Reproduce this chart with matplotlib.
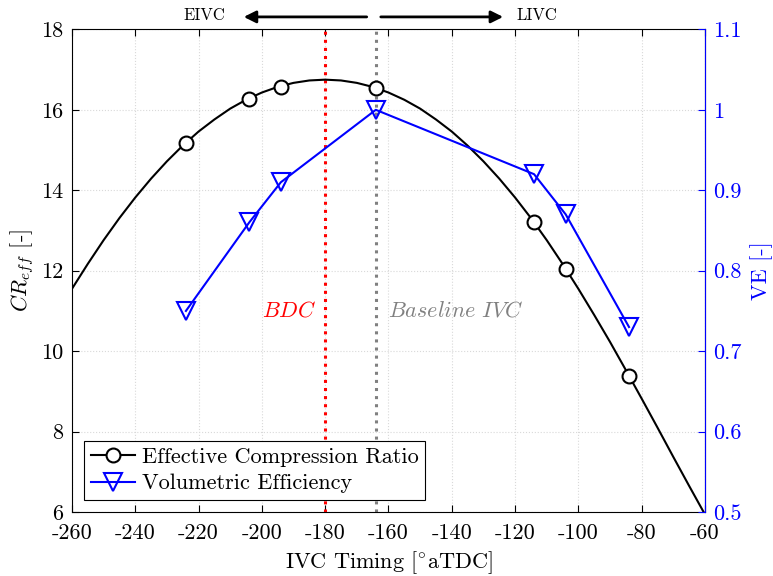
import matplotlib
matplotlib.use("Agg")
import matplotlib.pyplot as plt
from matplotlib.lines import Line2D

plt.rcParams['font.family'] = ['cmr10', 'DejaVu Serif']
plt.rcParams['mathtext.fontset'] = 'cm'
plt.rcParams['axes.unicode_minus'] = False
plt.rcParams['axes.formatter.use_mathtext'] = False

# ---- data ----
curve_x = [-260, -255, -250, -245, -240, -235, -230, -225, -220, -215, -210,
           -205, -200, -195, -190, -185, -180, -175, -170, -165, -160, -155,
           -150, -145, -140, -135, -130, -125, -120, -115, -110, -105, -100,
           -95, -90, -85, -80, -75, -70, -65, -60]
curve_y = [11.55, 12.17, 12.76, 13.31, 13.82, 14.29, 14.72, 15.11, 15.46, 15.76, 16.03,
           16.25, 16.43, 16.57, 16.67, 16.73, 16.75, 16.73, 16.67, 16.57, 16.43, 16.25,
           16.03, 15.76, 15.46, 15.11, 14.72, 14.29, 13.82, 13.31, 12.76, 12.17, 11.55,
           10.90, 10.23, 9.53, 8.82, 8.10, 7.37, 6.65, 5.94]
ivc_x = [-224, -204, -194, -164, -114, -104, -84]
ecr_y = [15.18, 16.28, 16.57, 16.54, 13.20, 12.05, 9.39]
ve_y = [0.75, 0.86, 0.91, 1.00, 0.92, 0.87, 0.73]
bdc_x = -180
baseline_x = -164
x_ticks = [-260, -240, -220, -200, -180, -160, -140, -120, -100, -80, -60]
left_ticks = [6, 8, 10, 12, 14, 16, 18]
right_ticks = [0.5, 0.6, 0.7, 0.8, 0.9, 1.0, 1.1]
right_tick_labels = ['0.5', '0.6', '0.7', '0.8', '0.9', '1', '1.1']

FS = 16

fig = plt.figure(figsize=(7.73, 5.76), dpi=100)
ax = fig.add_axes([0.0931, 0.111, 0.8189, 0.838])
ax2 = ax.twinx()

ax.set_xlim(-260, -60)
ax.set_ylim(6, 18)
ax2.set_ylim(0.5, 1.1)

ax.set_xticks(x_ticks)
ax.set_yticks(left_ticks)
ax2.set_yticks(right_ticks)
ax2.set_yticklabels(right_tick_labels)

ax.grid(True, color='#d9d9d9', linestyle=':', linewidth=0.8)
ax.set_axisbelow(True)

ax.axvline(bdc_x, color='red', linestyle=':', linewidth=2.2, zorder=1)
ax.axvline(baseline_x, color='#808080', linestyle=':', linewidth=2.2, zorder=1)

ax.text(bdc_x - 3, 11.0, r'$BDC$', color='red', fontsize=FS, ha='right', va='center')
ax.text(baseline_x + 4, 11.0, r'$Baseline\ IVC$', color='#808080', fontsize=FS,
        ha='left', va='center')

# curve + markers
ax.plot(curve_x, curve_y, color='black', linewidth=1.5, zorder=3)
ax.plot(ivc_x, ecr_y, linestyle='none', marker='o', markersize=10,
        markerfacecolor='white', markeredgecolor='black', markeredgewidth=1.5, zorder=4)
ax2.plot(ivc_x, ve_y, color='blue', linewidth=1.5, marker='v', markersize=13,
         markerfacecolor='none', markeredgecolor='blue', markeredgewidth=1.5)

# legend handles
h1 = Line2D([], [], color='black', linewidth=1.5, marker='o', markersize=10,
            markerfacecolor='white', markeredgecolor='black', markeredgewidth=1.5)
h2 = Line2D([], [], color='blue', linewidth=1.5, marker='v', markersize=13,
            markerfacecolor='none', markeredgecolor='blue', markeredgewidth=1.5)
leg = ax2.legend([h1, h2], ['Effective Compression Ratio', 'Volumetric Efficiency'],
                 loc='lower left', bbox_to_anchor=(0.019, 0.025), fontsize=FS,
                 frameon=True, fancybox=False, framealpha=1, edgecolor='black',
                 borderpad=0.3, labelspacing=0.3, handlelength=2.0,
                 handletextpad=0.3, borderaxespad=0)
leg.get_frame().set_linewidth(0.8)

# labels
ax.set_xlabel(r'IVC Timing [$^{\circ}$aTDC]', fontsize=FS, labelpad=5)
ax.set_ylabel(r'$CR_{eff}$ [-]', fontsize=FS, labelpad=4)
ax2.set_ylabel('VE [-]', fontsize=FS, color='blue', labelpad=6)

ax.tick_params(axis='x', direction='in', labelsize=FS, top=True, length=5, width=0.8, pad=8)
ax.tick_params(axis='y', direction='in', labelsize=FS, right=False, length=5, width=0.8, pad=6)
ax2.tick_params(axis='y', direction='in', labelsize=FS, colors='blue', length=5,
                width=0.8, pad=6)
ax2.spines['right'].set_color('blue')
for s in ['left', 'top', 'bottom']:
    ax2.spines[s].set_visible(False)
for s in ax.spines.values():
    s.set_linewidth(0.8)
ax2.spines['right'].set_linewidth(0.8)

# top annotations
ax.annotate('', xy=(-206.6, 18.31), xytext=(-166, 18.31), xycoords='data',
            arrowprops=dict(arrowstyle='-|>', color='black', lw=2, mutation_scale=18),
            annotation_clip=False)
ax.annotate('', xy=(-122.9, 18.31), xytext=(-163.3, 18.31), xycoords='data',
            arrowprops=dict(arrowstyle='-|>', color='black', lw=2, mutation_scale=18),
            annotation_clip=False)
ax.text(-218, 18.36, 'EIVC', fontsize=12, ha='center', va='center', clip_on=False)
ax.text(-113, 18.36, 'LIVC', fontsize=12, ha='center', va='center', clip_on=False)

fig.savefig('out.png', dpi=100)
